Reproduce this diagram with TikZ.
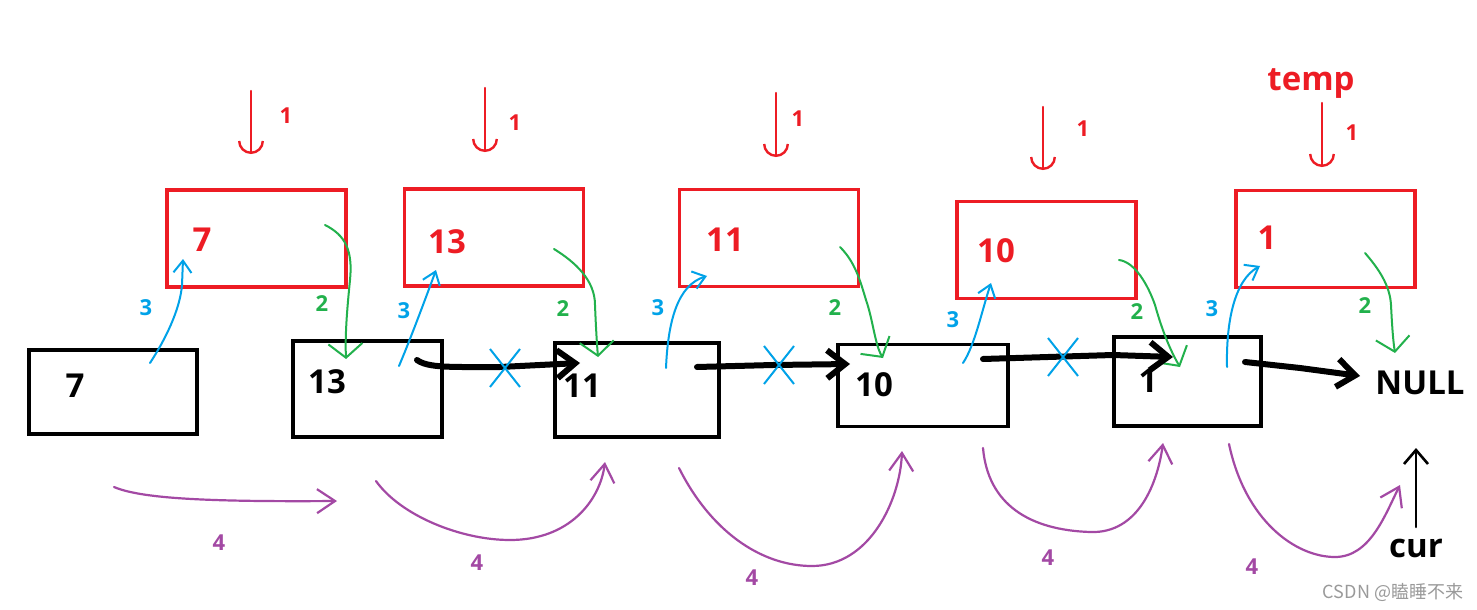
\documentclass[tikz,border=0pt]{standalone}
\usepackage{fontspec}
\setmainfont{Open Sans}
\newfontfamily\cjk{Noto Sans CJK SC}
\usetikzlibrary{arrows.meta,shapes.misc,calc}
\definecolor{pred}{HTML}{ED1C24}
\definecolor{pgreen}{HTML}{22B14C}
\definecolor{pblue}{HTML}{00A2E8}
\definecolor{ppurple}{HTML}{A349A4}
\definecolor{wmgray}{HTML}{9A9A9A}
\begin{document}
\begin{tikzpicture}[x=0.5pt,y=-0.5pt,
  redbox/.style={draw=pred,line width=1.6pt,minimum width=89.5pt,minimum height=48.5pt,inner sep=0pt},
  blackbox/.style={draw=black,line width=1.6pt,inner sep=0pt},
  bigtxt/.style={font=\bfseries\fontsize{16.5}{18}\selectfont,inner sep=0pt},
  smalltxt/.style={font=\bfseries\fontsize{11}{12}\selectfont,inner sep=0pt},
  redarr/.style={draw=pred,line width=1.2pt,line cap=round,-{Arc Barb[width=13pt,length=6.5pt]}},
  greenarr/.style={draw=pgreen,line width=1pt,line cap=round,-{Straight Barb[length=7pt,width=17pt]}},
  bluearr/.style={draw=pblue,line width=1pt,line cap=round,-{Straight Barb[length=6pt,width=9pt]}},
  purparr/.style={draw=ppurple,line width=1.1pt,line cap=round,-{Straight Barb[length=9pt,width=12pt]}},
  blackarr/.style={draw=black,line width=3pt,line cap=round,-{Straight Barb[length=9pt,width=14pt]}},
  xmark/.style={cross out,draw=pblue,line width=1pt,minimum width=14pt,minimum height=18pt,inner sep=0pt},
]
\useasboundingbox (0,0) rectangle (1477,610);
\fill[white] (0,0) rectangle (1477,610);

% red boxes (new nodes)
\node[redbox] (r1) at (256.5,238.5) {};
\node[redbox] (r2) at (494,237.5) {};
\node[redbox] (r3) at (769,238) {};
\node[redbox] (r4) at (1046.5,250) {};
\node[redbox] (r5) at (1325.5,239) {};
\node[bigtxt,text=pred] (rt1) at (202,240) {7};
\node[bigtxt,text=pred] (rt2) at (447,242) {13};
\node[bigtxt,text=pred] (rt3) at (725,240) {11};
\node[bigtxt,text=pred] (rt4) at (996,251) {10};
\node[bigtxt,text=pred] (rt5) at (1267,238) {1};
\node[bigtxt,text=pred] (temp) at (1311,84) {temp};

% black boxes (list)
\node[blackbox,minimum width=84pt,minimum height=42pt] (b1) at (113,392) {};
\node[blackbox,minimum width=74.5pt,minimum height=48pt] (b2) at (367.5,389) {};
\node[blackbox,minimum width=82pt,minimum height=47pt] (b3) at (637,390) {};
\node[blackbox,minimum width=85pt,minimum height=41pt] (b4) at (923,385.5) {};
\node[blackbox,minimum width=73.5pt,minimum height=44.5pt] (b5) at (1187.5,381.5) {};
\node[bigtxt] (bt1) at (75,386) {7};
\node[bigtxt] (bt2) at (327,382) {13};
\node[bigtxt] (bt3) at (582,386) {11};
\node[bigtxt] (bt4) at (874,385) {10};
\node[bigtxt] (bt5) at (1148,381) {1};
\node[bigtxt] (null) at (1420,383) {NULL};
\node[bigtxt] (cur) at (1416,548) {cur};

% coordinates
\coordinate (d1s) at (251,91);  \coordinate (d1e) at (251,154);
\coordinate (d2s) at (485,88);  \coordinate (d2e) at (485,152);
\coordinate (d3s) at (776,93);  \coordinate (d3e) at (776,157);
\coordinate (d4s) at (1043,107); \coordinate (d4e) at (1043,170);
\coordinate (d5s) at (1322,103); \coordinate (d5e) at (1322,167);

% step 1: red arrows
\draw[redarr] (d1s) -- (d1e);
\draw[redarr] (d2s) -- (d2e);
\draw[redarr] (d3s) -- (d3e);
\draw[redarr] (d4s) -- (d4e);
\draw[redarr] (d5s) -- (d5e);
\node[smalltxt,text=pred] (l11) at (286,116) {1};
\node[smalltxt,text=pred] (l12) at (515,123) {1};
\node[smalltxt,text=pred] (l13) at (798,119) {1};
\node[smalltxt,text=pred] (l14) at (1083,129) {1};
\node[smalltxt,text=pred] (l15) at (1352,133) {1};

% step 2: green arrows (new node -> next)
\draw[greenarr] (325,225) .. controls (345,235) and (353,250) .. (350,280) .. controls (347,310) and (345,335) .. (346,359);
\draw[greenarr] (554,249) .. controls (575,262) and (595,280) .. (595,305) .. controls (596,330) and (597,345) .. (598,357);
\draw[greenarr] (840,247) .. controls (855,262) and (860,280) .. (866,300) .. controls (873,320) and (875,345) .. (883,358);
\draw[greenarr] (1119,260) .. controls (1135,262) and (1148,285) .. (1155,305) .. controls (1162,330) and (1170,350) .. (1180,367);
\draw[greenarr] (1365,253) .. controls (1378,268) and (1390,285) .. (1391,305) .. controls (1392,325) and (1393,340) .. (1395,353);
\node[smalltxt,text=pgreen] (l21) at (322,304) {2};
\node[smalltxt,text=pgreen] (l22) at (563,309) {2};
\node[smalltxt,text=pgreen] (l23) at (835,308) {2};
\node[smalltxt,text=pgreen] (l24) at (1137,312) {2};
\node[smalltxt,text=pgreen] (l25) at (1365,306) {2};

% step 3: blue arrows (prev -> new node)
\draw[bluearr] (150,363) .. controls (165,340) and (180,310) .. (182,285) -- (183,259);
\draw[bluearr] (399,366) .. controls (410,340) and (425,300) .. (436,270);
\draw[bluearr] (666,368) .. controls (668,320) and (678,285) .. (707,276);
\draw[bluearr] (963,363) .. controls (975,345) and (982,310) .. (991,283);
\draw[bluearr] (1227,367) .. controls (1226,320) and (1235,280) .. (1260,266);
\node[smalltxt,text=pblue] (l31) at (146,308) {3};
\node[smalltxt,text=pblue] (l32) at (404,311) {3};
\node[smalltxt,text=pblue] (l33) at (658,308) {3};
\node[smalltxt,text=pblue] (l34) at (953,320) {3};
\node[smalltxt,text=pblue] (l35) at (1212,309) {3};

% old next pointers
\draw[blackarr] (417,360) .. controls (428,368) and (450,367) .. (500,367) -- (580,363);
\draw[blackarr] (697,367) -- (773,365) -- (850,364);
\draw[blackarr] (983,359) -- (1113,355) -- (1173,357);
\draw[blackarr] (1245,362) -- (1300,368) -- (1360,376);
\node[xmark] (x1) at (505,368) {};
\node[xmark] (x2) at (779,365) {};
\node[xmark] (x3) at (1063,357) {};

% cur pointer
\coordinate (curtail) at (1416,527);
\draw[draw=black,line width=1.3pt,line cap=round,-{Straight Barb[length=7pt,width=12pt]}] (curtail) -- (1416,448);

% step 4: purple arrows
\draw[purparr] (114,487) .. controls (140,498) and (200,502) .. (337,501);
\draw[purparr] (376,481) .. controls (400,515) and (460,540) .. (510,540) .. controls (570,540) and (600,500) .. (605,462);
\draw[purparr] (679,468) .. controls (710,530) and (760,566) .. (812,566) .. controls (870,566) and (900,500) .. (902,451);
\draw[purparr] (983,448) .. controls (988,505) and (1030,530) .. (1090,532) .. controls (1140,534) and (1158,480) .. (1163,443);
\draw[purparr] (1229,444) .. controls (1245,520) and (1295,557) .. (1335,557) .. controls (1370,557) and (1385,515) .. (1400,485);
\node[smalltxt,text=ppurple] (l41) at (219,543) {4};
\node[smalltxt,text=ppurple] (l42) at (477,563) {4};
\node[smalltxt,text=ppurple] (l43) at (752,578) {4};
\node[smalltxt,text=ppurple] (l44) at (1048,558) {4};
\node[smalltxt,text=ppurple] (l45) at (1252,567) {4};

% watermark
\node[font=\cjk\fontsize{9}{10}\selectfont,text=wmgray,inner sep=0pt] (wm) at (1393,592) {CSDN @瞌睡不来};
\end{tikzpicture}
\end{document}
